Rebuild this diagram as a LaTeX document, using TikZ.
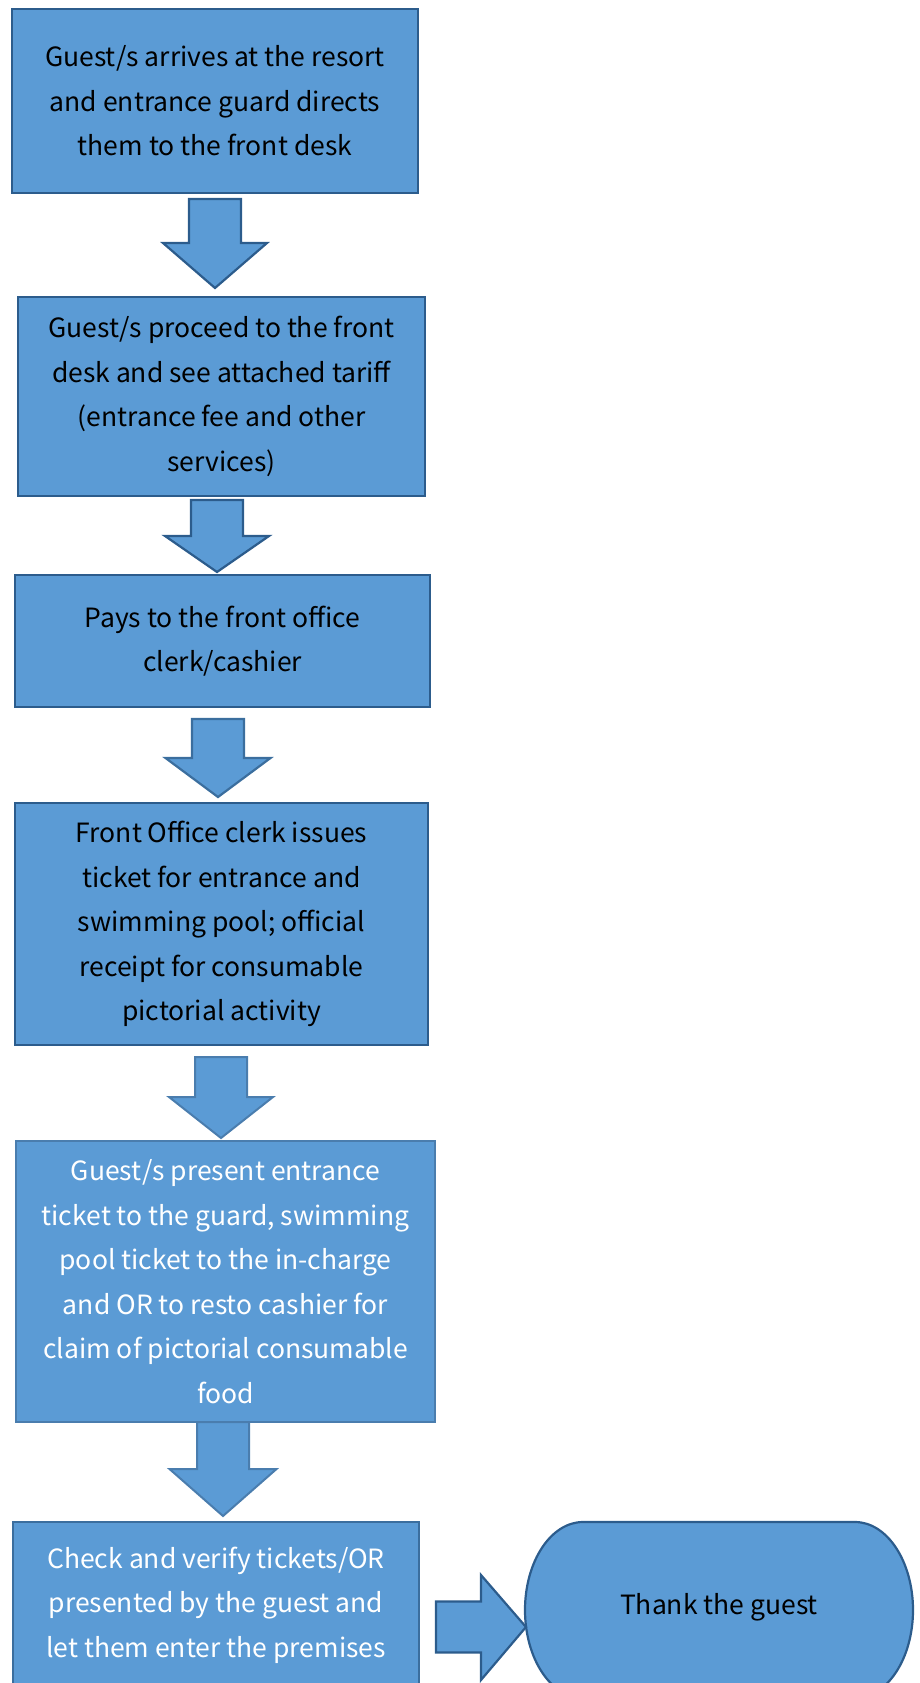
\documentclass[tikz,border=0pt]{standalone}
\usepackage{fontspec}
\setmainfont{Noto Sans CJK JP}
\usetikzlibrary{calc}
\definecolor{boxfill}{HTML}{5B9BD5}
\definecolor{edgedark}{HTML}{2C5C8C}
\definecolor{edgemid}{HTML}{3B6E9E}
\definecolor{edgelight}{HTML}{4A7DAE}
\tikzset{
  labelfont/.style={font=\fontsize{26.5}{44.5}\selectfont},
  stepbox/.style={draw=edgedark, line width=2.4pt, fill=boxfill, rectangle,
    inner sep=0pt, align=center, text=black, labelfont},
  lightbox/.style={stepbox, draw=edgelight, line width=2pt, text=white},
  blockarrow/.style={draw=edgedark, line width=2.2pt, fill=boxfill, line join=miter},
}
% downward block arrow: #1 centre x, #2 shaft half width, #3 top, #4 head base,
% #5 head half width, #6 tip, #7 style
\newcommand{\downblock}[7]{%
  \draw[blockarrow,#7] (#1-#2,#3) -- (#1+#2,#3) -- (#1+#2,#4) -- (#1+#5,#4)
    -- (#1,#6) -- (#1-#5,#4) -- (#1-#2,#4) -- cycle;}
\begin{document}
\begin{tikzpicture}[x=1pt,y=-1pt]
\useasboundingbox (0,0) rectangle (919,1683);

\node[stepbox, minimum width=406pt, minimum height=184pt] (b1) at (215,101)
  {Guest/s arrives at the resort\\and entrance guard directs\\them to the front desk};
\node[stepbox, minimum width=407pt, minimum height=199pt] (b2) at (221.5,396.5)
  {Guest/s proceed to the front\\desk and see attached tariff\\(entrance fee and other\\services)};
\node[stepbox, minimum width=415pt, minimum height=132pt] (b3) at (222.5,641)
  {Pays to the front office\\clerk/cashier};
\node[stepbox, minimum width=413pt, minimum height=242pt] (b4) at (221.5,924)
  {Front Office clerk issues\\ticket for entrance and\\swimming pool; official\\receipt for consumable\\pictorial activity};
\node[lightbox, minimum width=419pt, minimum height=281pt] (b5) at (225.5,1281.5)
  {Guest/s present entrance\\ticket to the guard, swimming\\pool ticket to the in-charge\\and OR to resto cashier for\\claim of pictorial consumable\\food};
\node[lightbox, draw=edgemid, minimum width=406pt, minimum height=166pt] (b6) at (216,1605)
  {Check and verify tickets/OR\\presented by the guest and\\let them enter the premises};

% terminator with elliptical ends (y axis points down)
\draw[draw=edgedark, line width=2.2pt, fill=boxfill]
  (583,1522) -- (855,1522) arc[start angle=-90, end angle=90, x radius=58, y radius=88]
  -- (583,1698) arc[start angle=90, end angle=270, x radius=58, y radius=88] -- cycle;
\node[labelfont, text=black] (t) at (719,1607) {Thank the guest};

% block arrows between the steps
\downblock{215}{26}{199}{243}{52}{288}{}
\downblock{217}{26}{500}{536}{52}{572}{}
\downblock{218}{26}{719}{758}{52.5}{797}{draw=edgemid}
\downblock{221}{26}{1057}{1097}{52}{1138}{draw=edgelight, line width=2pt}
\downblock{223}{26}{1422}{1469}{53.5}{1516}{draw=edgelight, line width=2pt}
% arrow to the terminator
\draw[blockarrow] (436,1601.5) -- (481,1601.5) -- (481,1575) -- (526,1627)
  -- (481,1680) -- (481,1652.5) -- (436,1652.5) -- cycle;
\end{tikzpicture}
\end{document}
